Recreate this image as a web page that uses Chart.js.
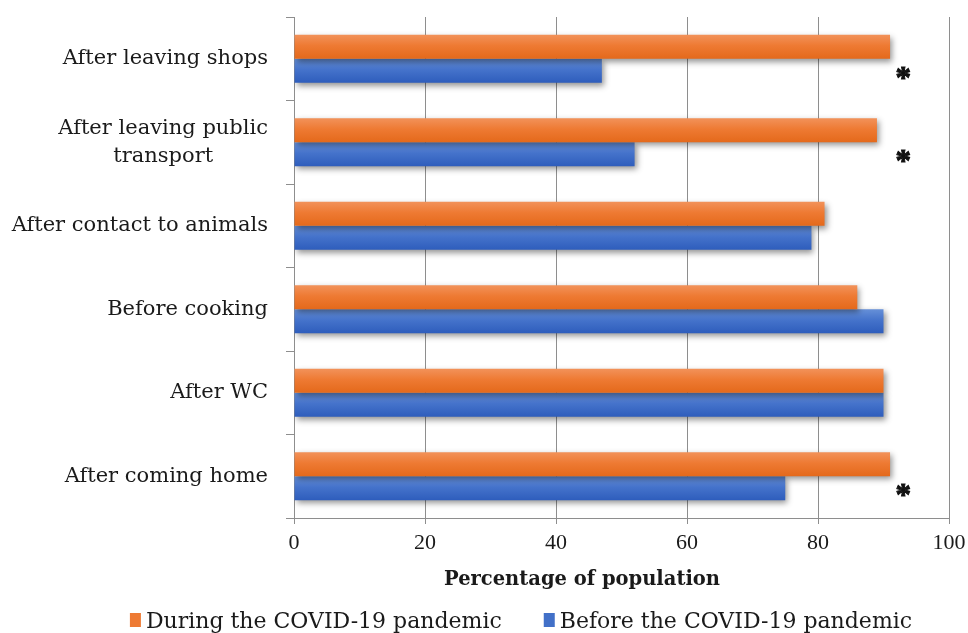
<!DOCTYPE html>
<html>
<head>
<meta charset="utf-8">
<script src="https://cdn.jsdelivr.net/npm/chart.js@4.4.0/dist/chart.umd.min.js"></script>
<style>
  html, body { margin: 0; padding: 0; background: #ffffff; }
  #wrap { width: 968px; height: 633px; }
</style>
</head>
<body>
<div id="wrap"><canvas id="c" width="968" height="633"></canvas></div>
<script>
// Hand-washing occasions (multi-line labels are arrays of lines)
const categories = [
  ["After leaving shops"],
  ["After leaving public", "transport"],
  ["After contact to animals"],
  ["Before cooking"],
  ["After WC"],
  ["After coming home"]
];
// Share of respondents (%)
const duringPandemic = [91, 89, 81, 86, 90, 91];
const beforePandemic = [47, 52, 79, 90, 90, 75];
// Occasions with a significant change (marked with *)
const significant = [true, true, false, false, false, true];
const xTicks = [0, 20, 40, 60, 80, 100];
const seriesNames = ["During the COVID-19 pandemic", "Before the COVID-19 pandemic"];
const axisTitle = "Percentage of population";

const CAT_PCT = 0.575;
const MARK_VALUE = 93;
const AXIS_GREY = "#8e8e8e";
const TEXT = "#1a1a1a";
const LABEL_FONT = "21px 'DejaVu Serif'";

const orangeStops = ["#F2925A", "#EE7A33", "#E4691B"];
const blueStops = ["#6690D8", "#4573CB", "#2E5DBC"];

function barFill(stops) {
  return (c) => {
    const chart = c.chart;
    const ys = chart.scales && chart.scales.y;
    if (c.type !== "data" || !ys || !chart.chartArea) return stops[1];
    const step = ys.getPixelForValue(1) - ys.getPixelForValue(0);
    const thick = step * CAT_PCT / 2;
    const mid = ys.getPixelForValue(c.dataIndex);
    const top = c.datasetIndex === 0 ? mid - thick : mid;
    const g = chart.ctx.createLinearGradient(0, top, 0, top + thick);
    g.addColorStop(0, stops[0]);
    g.addColorStop(0.45, stops[1]);
    g.addColorStop(1, stops[2]);
    return g;
  };
}

// Soft drop shadow under the bars
const barShadow = {
  id: "barShadow",
  beforeDatasetsDraw(chart) {
    const ctx = chart.ctx;
    ctx.save();
    ctx.shadowColor = "rgba(0,0,0,0.42)";
    ctx.shadowBlur = 6;
    ctx.shadowOffsetX = 2;
    ctx.shadowOffsetY = 3;
  },
  afterDatasetsDraw(chart) {
    chart.ctx.restore();
  }
};

// Category labels, significance marks, axis title and legend
const decorations = {
  id: "decorations",
  afterDraw(chart) {
    const ctx = chart.ctx;
    const xs = chart.scales.x;
    const ys = chart.scales.y;
    const area = chart.chartArea;
    const step = ys.getPixelForValue(1) - ys.getPixelForValue(0);
    const thick = step * CAT_PCT / 2;

    ctx.save();
    ctx.fillStyle = TEXT;

    // category labels: block right-aligned, lines centred within the block
    ctx.font = LABEL_FONT;
    ctx.textBaseline = "middle";
    ctx.textAlign = "center";
    const lineH = 28;
    const rightEdge = area.left - 26;
    chart.data.labels.forEach((lines, i) => {
      const cy = ys.getPixelForValue(i);
      const w = Math.max(...lines.map(l => ctx.measureText(l).width));
      const cx = rightEdge - w / 2;
      const y0 = cy - (lines.length - 1) * lineH / 2;
      lines.forEach((l, k) => ctx.fillText(l, cx, y0 + k * lineH));
    });

    // significance asterisks next to the bar pairs
    ctx.font = "bold 31px 'Liberation Serif'";
    ctx.textAlign = "center";
    ctx.textBaseline = "alphabetic";
    ctx.strokeStyle = "#111111";
    ctx.lineWidth = 1;
    ctx.fillStyle = "#111111";
    const m = ctx.measureText("*");
    const half = (m.actualBoundingBoxAscent - m.actualBoundingBoxDescent) / 2;
    significant.forEach((s, i) => {
      if (!s) return;
      const ty = ys.getPixelForValue(i) + thick / 2 + 2;
      const tx = xs.getPixelForValue(MARK_VALUE);
      ctx.fillText("*", tx, ty + half);
      ctx.strokeText("*", tx, ty + half);
    });
    ctx.fillStyle = TEXT;

    // x-axis title
    ctx.font = "bold 19.5px 'DejaVu Serif'";
    ctx.textBaseline = "middle";
    ctx.fillText(axisTitle, 582, 580);

    // legend
    ctx.font = "22px 'DejaVu Serif'";
    ctx.textAlign = "left";
    ctx.textBaseline = "alphabetic";
    const boxW = 11, boxH = 14, boxGap = 5, itemGap = 42, baseline = 628;
    const items = chart.data.datasets.map(ds => ({
      text: ds.label,
      color: ds.legendColor,
      w: ctx.measureText(ds.label).width
    }));
    const total = items.reduce((a, it) => a + boxW + boxGap + it.w, 0) + itemGap * (items.length - 1);
    let x = 521 - total / 2;
    items.forEach(it => {
      ctx.fillStyle = it.color;
      ctx.fillRect(x, baseline - boxH - 1, boxW, boxH);
      ctx.fillStyle = TEXT;
      ctx.fillText(it.text, x + boxW + boxGap, baseline);
      x += boxW + boxGap + it.w + itemGap;
    });
    ctx.restore();
  }
};

new Chart(document.getElementById("c"), {
  type: "bar",
  data: {
    labels: categories,
    datasets: [
      {
        label: seriesNames[0],
        data: duringPandemic,
        backgroundColor: barFill(orangeStops),
        legendColor: "#EE7A33",
        borderWidth: 0,
        barPercentage: 1,
        categoryPercentage: CAT_PCT
      },
      {
        label: seriesNames[1],
        data: beforePandemic,
        backgroundColor: barFill(blueStops),
        legendColor: "#4270C8",
        borderWidth: 0,
        barPercentage: 1,
        categoryPercentage: CAT_PCT
      }
    ]
  },
  options: {
    indexAxis: "y",
    responsive: false,
    animation: false,
    devicePixelRatio: 1,
    layout: { padding: { left: 0, top: 17, right: 19, bottom: 0 } },
    plugins: {
      legend: { display: false },
      tooltip: { enabled: false }
    },
    scales: {
      x: {
        min: xTicks[0],
        max: xTicks[xTicks.length - 1],
        afterBuildTicks(scale) {
          scale.ticks = xTicks.map(v => ({ value: v }));
        },
        afterFit(scale) {
          scale.height = 115;
          scale.paddingLeft = 0;
          scale.paddingRight = 0;
        },
        ticks: {
          color: TEXT,
          font: { family: "'Liberation Serif'", size: 22 },
          padding: 6,
          maxRotation: 0
        },
        grid: { color: AXIS_GREY, lineWidth: 1, tickLength: 6, drawTicks: true },
        border: { color: AXIS_GREY, width: 1 }
      },
      y: {
        offset: true,
        afterFit(scale) { scale.width = 294; },
        ticks: { display: false },
        grid: { offset: true, drawOnChartArea: false, drawTicks: true, tickLength: 8, color: AXIS_GREY },
        border: { color: AXIS_GREY, width: 1 }
      }
    }
  },
  plugins: [barShadow, decorations]
});
</script>
</body>
</html>
